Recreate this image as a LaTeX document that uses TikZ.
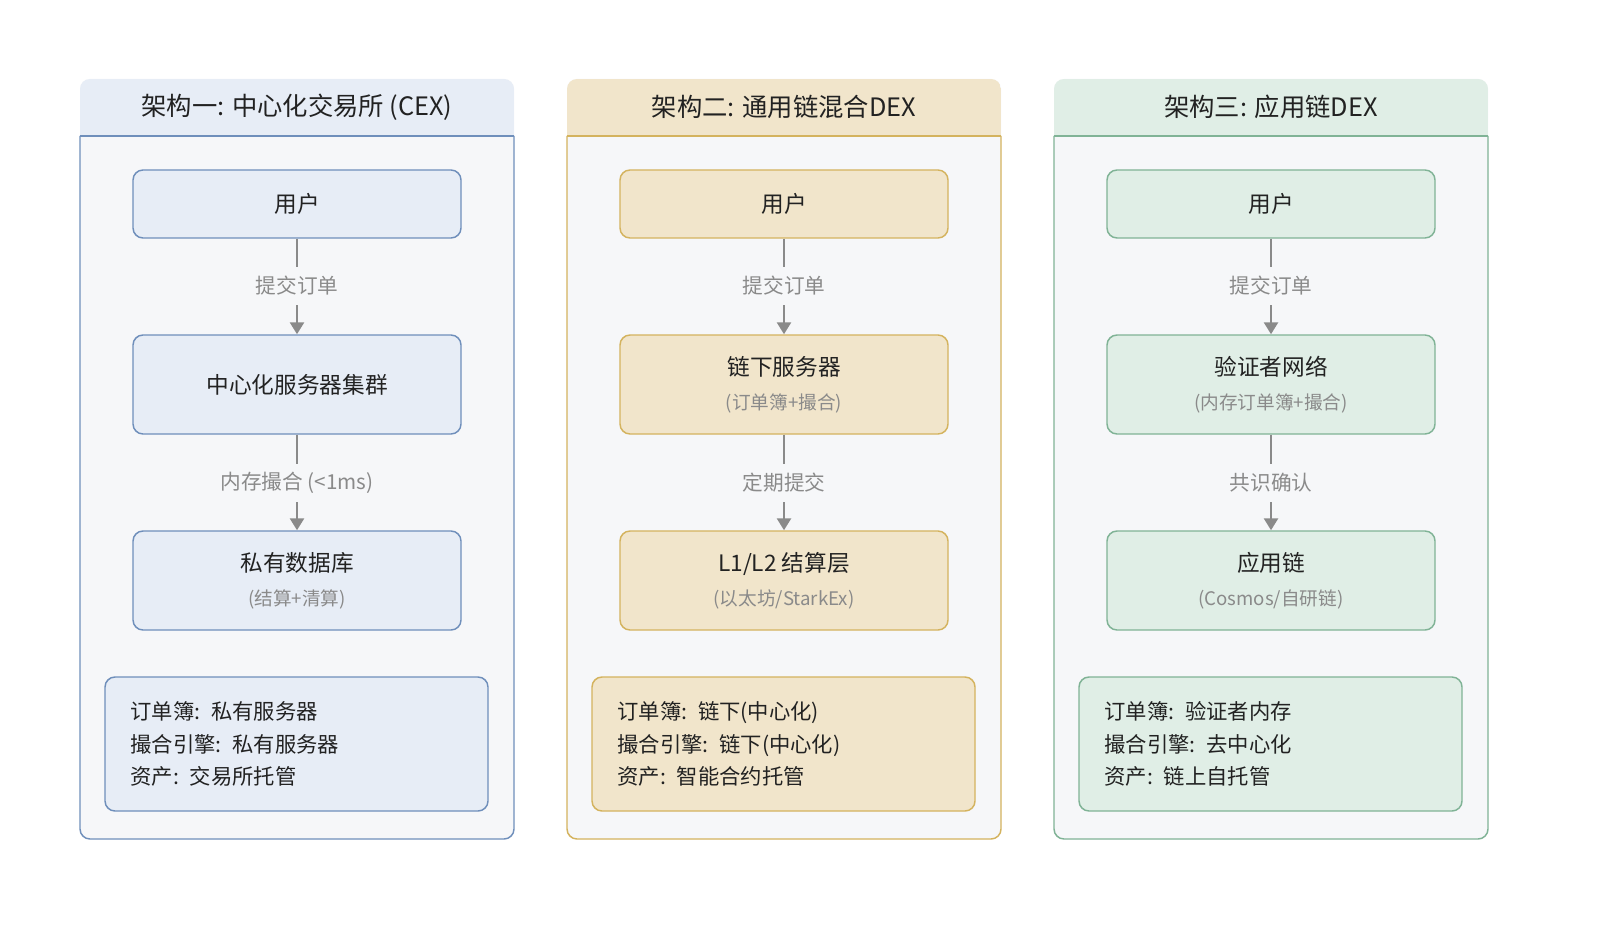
\documentclass[tikz,border=0pt]{standalone}
\usepackage{fontspec}
\setmainfont{Noto Sans CJK SC}
\usetikzlibrary{arrows.meta}
\definecolor{bFill}{HTML}{E7EDF6}
\definecolor{bDraw}{HTML}{6F8FBB}
\definecolor{yFill}{HTML}{F1E5CB}
\definecolor{yDraw}{HTML}{D4B35E}
\definecolor{gFill}{HTML}{E0EEE6}
\definecolor{gDraw}{HTML}{80B396}
\definecolor{bodyFill}{HTML}{F6F7F9}
\definecolor{mainTxt}{HTML}{222222}
\definecolor{subTxt}{HTML}{8A8A8A}
\definecolor{arrowCol}{HTML}{8A8A8A}
\newcommand{\subline}[1]{{\fontsize{14pt}{25.5pt}\selectfont\color{subTxt}#1}}
\tikzset{
  flowbox/.style={draw=#1Draw, fill=#1Fill, line width=1.1pt, rounded corners=7.5pt,
    minimum width=246pt, text=mainTxt, align=center,
    font=\fontsize{17pt}{25.5pt}\selectfont},
  userbox/.style={flowbox=#1, minimum height=51pt},
  bigbox/.style={flowbox=#1, minimum height=74.25pt},
  infobox/.style={draw=#1Draw, fill=#1Fill, line width=1.1pt, rounded corners=7.5pt,
    minimum width=287.25pt, minimum height=100.5pt, text width=249pt, inner xsep=18.75pt,
    align=left, text=mainTxt, font=\fontsize{16pt}{24.4pt}\selectfont},
  flowlabel/.style={text=subTxt, font=\fontsize{15.5pt}{18pt}\selectfont, minimum height=28.5pt, inner ysep=0pt},
  conn/.style={draw=arrowCol, line width=2pt},
  connarrow/.style={conn, -{Triangle[length=9pt,width=10.5pt]}},
  titletxt/.style={text=mainTxt, font=\fontsize{19pt}{22pt}\selectfont},
}
\begin{document}
\begin{tikzpicture}[x=0.75pt,y=-0.75pt]
\useasboundingbox (0,0) rectangle (1600,938);
\fill[white] (0,0) rectangle (1600,938);

% ---------- panels ----------
\foreach \px/\c in {80/b,567/y,1054/g}{
  \fill[bodyFill, rounded corners=7.5pt] (\px,79) rectangle ++(434,760);
  \begin{scope}
    \clip[rounded corners=7.5pt] (\px,79) rectangle ++(434,760);
    \fill[\c Fill] (\px,79) rectangle ++(434,57);
  \end{scope}
  \draw[\c Draw, line width=1.1pt] (\px,136) -- ++(434,0);
  \draw[\c Draw, line width=1.1pt, rounded corners=7.5pt] (\px,136) -- (\px,839) -- ++(434,0) -- ++(0,-703);
}

\node[titletxt] (t1) at (297,107) {架构一: 中心化交易所 (CEX)};
\node[titletxt] (t2) at (784,107) {架构二: 通用链混合DEX};
\node[titletxt] (t3) at (1271,107) {架构三: 应用链DEX};

% ---------- panel 1 ----------
\node[userbox=b] (u1) at (297,204) {用户};
\node[bigbox=b] (m1) at (297,384.5) {中心化服务器集群};
\node[bigbox=b] (d1) at (297,580.5) {私有数据库\\\subline{(结算+清算)}};
\node[flowlabel] (l1a) at (297,286) {提交订单};
\node[flowlabel] (l1b) at (297,483) {内存撮合 (<1ms)};
\draw[conn] (u1.south) -- (l1a.north);
\draw[connarrow] (l1a.south) -- (m1.north);
\draw[conn] (m1.south) -- (l1b.north);
\draw[connarrow] (l1b.south) -- (d1.north);
\node[infobox=b] (i1) at (296.5,744) {订单簿: 私有服务器\\撮合引擎: 私有服务器\\资产: 交易所托管};

% ---------- panel 2 ----------
\node[userbox=y] (u2) at (784,204) {用户};
\node[bigbox=y] (m2) at (784,384.5) {链下服务器\\\subline{(订单簿+撮合)}};
\node[bigbox=y] (d2) at (784,580.5) {L1/L2 结算层\\\subline{(以太坊/StarkEx)}};
\node[flowlabel] (l2a) at (784,286) {提交订单};
\node[flowlabel] (l2b) at (784,483) {定期提交};
\draw[conn] (u2.south) -- (l2a.north);
\draw[connarrow] (l2a.south) -- (m2.north);
\draw[conn] (m2.south) -- (l2b.north);
\draw[connarrow] (l2b.south) -- (d2.north);
\node[infobox=y] (i2) at (783.5,744) {订单簿: 链下(中心化)\\撮合引擎: 链下(中心化)\\资产: 智能合约托管};

% ---------- panel 3 ----------
\node[userbox=g] (u3) at (1271,204) {用户};
\node[bigbox=g] (m3) at (1271,384.5) {验证者网络\\\subline{(内存订单簿+撮合)}};
\node[bigbox=g] (d3) at (1271,580.5) {应用链\\\subline{(Cosmos/自研链)}};
\node[flowlabel] (l3a) at (1271,286) {提交订单};
\node[flowlabel] (l3b) at (1271,483) {共识确认};
\draw[conn] (u3.south) -- (l3a.north);
\draw[connarrow] (l3a.south) -- (m3.north);
\draw[conn] (m3.south) -- (l3b.north);
\draw[connarrow] (l3b.south) -- (d3.north);
\node[infobox=g] (i3) at (1270.5,744) {订单簿: 验证者内存\\撮合引擎: 去中心化\\资产: 链上自托管};
\end{tikzpicture}
\end{document}
